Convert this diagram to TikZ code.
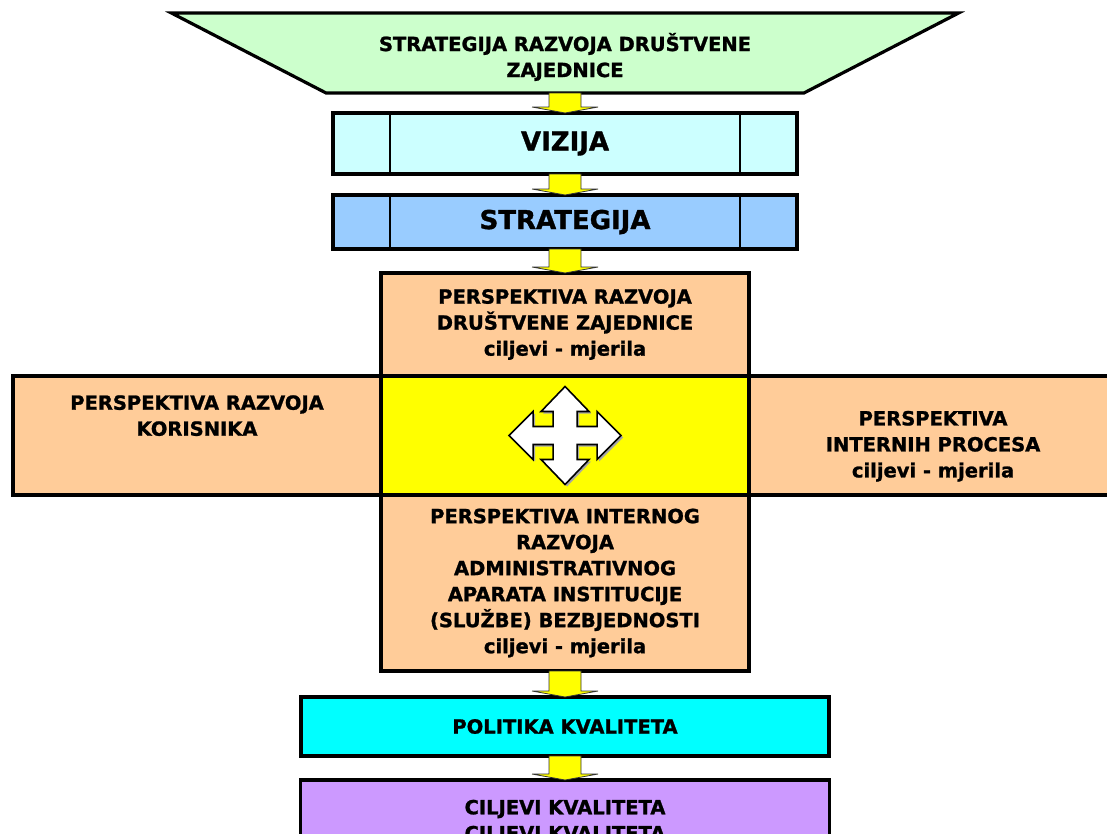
\documentclass[tikz,border=0pt]{standalone}
\usepackage{fontspec}
\setmainfont{DejaVu Sans}[BoldFeatures={FakeBold=1.2}]
\usepackage{xcolor}
\usetikzlibrary{positioning, shapes.geometric, calc}

\definecolor{trapgreen}{HTML}{CCFFCC}
\definecolor{vizcyan}{HTML}{CCFFFF}
\definecolor{stratblue}{HTML}{99CCFF}
\definecolor{perspor}{HTML}{FFCC99}
\definecolor{polcyan}{HTML}{00FFFF}
\definecolor{cilpurple}{HTML}{CC99FF}
\definecolor{pureyellow}{HTML}{FFFF00}

% yellow block arrow from one box down to the next
\newcommand{\blkdown}[2]{%
  \draw[blk] ($(#1.south)+(-16,0)$) -- ($(#2.north)+(-16,-6)$) -- ($(#2.north)+(-33,-6)$)
    -- (#2.north) -- ($(#2.north)+(33,-6)$) -- ($(#2.north)+(16,-6)$) -- ($(#1.south)+(16,0)$) -- cycle;}

% outline of the four-way arrow
\newcommand{\crosspath}{(0,-49) -- (24,-24) -- (12,-24) -- (12,-9) -- (32,-9) -- (32,-24) -- (56,0) -- (32,24) -- (32,9)
      -- (12,9) -- (12,24) -- (24,24) -- (0,49) -- (-24,24) -- (-12,24) -- (-12,9) -- (-32,9)
      -- (-32,24) -- (-56,0) -- (-32,-24) -- (-32,-9) -- (-12,-9) -- (-12,-24) -- (-24,-24) -- cycle}

\begin{document}
\begin{tikzpicture}[
      x=1pt, y=-1pt,
      node distance=0pt,
      every node/.style={draw, line width=3.2pt, outer sep=0pt, inner sep=0pt, align=center,
        font=\fontsize{19.5}{26}\selectfont\bfseries},
      bigtxt/.style={font=\fontsize{26}{30}\selectfont\bfseries},
      panel/.style={minimum width=464pt, path picture={
        \draw[line width=2.8pt] ([xshift=57pt]path picture bounding box.north west) -- ([xshift=57pt]path picture bounding box.south west)
          ([xshift=-57pt]path picture bounding box.north east) -- ([xshift=-57pt]path picture bounding box.south east);}},
      persp/.style={fill=perspor, minimum width=368pt},
      blk/.style={fill=pureyellow, draw=black!80, line width=0.8pt}
    ]
    \useasboundingbox (0,0) rectangle (1107,834);

    \node[trapezium, shape border rotate=180, trapezium angle=24.9, trapezium stretches=true,
      minimum width=794pt, minimum height=80pt, fill=trapgreen] (drustvo) at (565,53)
      {\mbox{}\\STRATEGIJA RAZVOJA DRUŠTVENE\\ZAJEDNICE};

    \node[panel, bigtxt, fill=vizcyan, minimum height=61pt, below=20pt of drustvo] (vizija) {VIZIJA};
    \node[panel, bigtxt, fill=stratblue, minimum height=54pt, below=21pt of vizija] (strategija) {STRATEGIJA};

    \node[persp, minimum height=103pt, below=24pt of strategija] (pdz)
      {PERSPEKTIVA RAZVOJA\\DRUŠTVENE ZAJEDNICE\\ciljevi - mjerila};
    \node[fill=pureyellow, minimum width=368pt, minimum height=119pt, below=of pdz] (sredina) {};
    \node[persp, minimum height=119pt, left=of sredina] (korisnik)
      {PERSPEKTIVA RAZVOJA\\KORISNIKA\\[14pt]\mbox{}};
    \node[persp, minimum height=119pt, right=of sredina] (procesi)
      {\mbox{}\\[10pt]PERSPEKTIVA\\INTERNIH PROCESA\\ciljevi - mjerila};
    \node[persp, minimum height=176pt, below=of sredina] (interni)
      {PERSPEKTIVA INTERNOG\\RAZVOJA\\ADMINISTRATIVNOG\\APARATA INSTITUCIJE\\(SLUŽBE) BEZBJEDNOSTI\\ciljevi - mjerila};

    \node[fill=polcyan, minimum width=528pt, minimum height=59pt, below=26pt of interni] (politika) {POLITIKA KVALITETA};
    \node[fill=cilpurple, minimum width=529pt, minimum height=84pt, below=24pt of politika] (ciljevi)
      {CILJEVI KVALITETA\\CILJEVI KVALITETA};

    \blkdown{drustvo}{vizija}
    \blkdown{vizija}{strategija}
    \blkdown{strategija}{pdz}
    \blkdown{interni}{politika}
    \blkdown{politika}{ciljevi}

    % four-way arrow in the middle, with a light shadow
    \fill[black!35, shift={(sredina.center)}, shift={(2,2)}] \crosspath;
    \draw[fill=white, line width=1.6pt, shift={(sredina.center)}] \crosspath;

    \end{tikzpicture}
\end{document}
